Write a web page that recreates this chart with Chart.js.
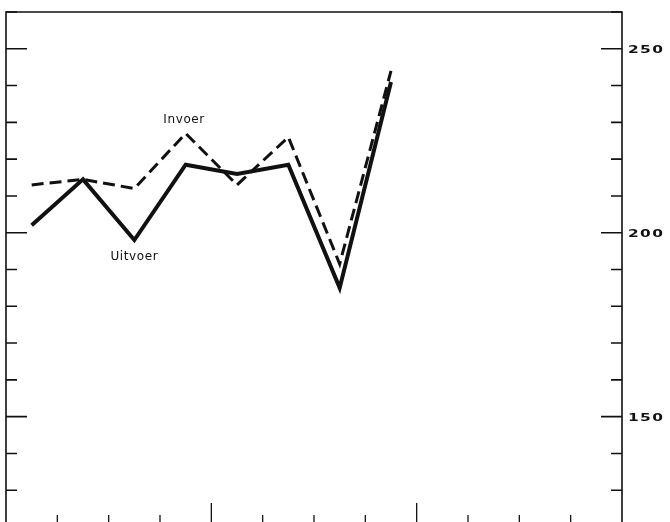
<!DOCTYPE html>
<html>
<head>
<meta charset="utf-8">
<script src="https://cdn.jsdelivr.net/npm/chart.js@4.4.0/dist/chart.umd.min.js"></script>
<style>
  html, body { margin: 0; padding: 0; background: #fff; overflow: hidden; }
  #wrap { width: 670px; height: 530px; }
</style>
</head>
<body>
<div id="wrap"><canvas id="myChart"></canvas></div>
<script>
// quarters, three years of four
var quarters = ['I', 'II', 'III', 'IV', 'I', 'II', 'III', 'IV', 'I', 'II', 'III', 'IV'];
var uitvoer = [202, 214.5, 198, 218.5, 216, 218.5, 185, 241, null, null, null, null];
var invoer = [213, 214.5, 212, 227, 213, 226, 191.5, 244, null, null, null, null];
var tickLabels = [150, 200, 250];
var yMin = 120, yMax = 260, yStep = 10;
var yearBreaks = [4, 8];

// series name labels placed in data units (category index, value)
var seriesLabels = [
    { text: 'Invoer', x: 2.97, y: 230.7 },
    { text: 'Uitvoer', x: 2.0, y: 193.5 }
];

var framePlugin = {
    id: 'frame',
    afterDraw: function (chart) {
        var ctx = chart.ctx;
        var a = chart.chartArea;
        var xs = chart.scales.x;
        var ys = chart.scales.y;
        ctx.save();
        ctx.strokeStyle = '#111';
        ctx.lineWidth = 1.6;
        ctx.beginPath();
        ctx.moveTo(a.left, a.bottom);
        ctx.lineTo(a.left, a.top);
        ctx.lineTo(a.right, a.top);
        ctx.lineTo(a.right, a.bottom);
        ctx.lineTo(a.left, a.bottom);
        ctx.stroke();

        // inward ticks on both sides
        for (var v = yMin; v <= yMax; v += yStep) {
            var py = ys.getPixelForValue(v);
            var len = tickLabels.indexOf(v) >= 0 ? 21 : 11;
            ctx.beginPath();
            ctx.moveTo(a.left, py);
            ctx.lineTo(a.left + len, py);
            ctx.moveTo(a.right, py);
            ctx.lineTo(a.right - len, py);
            ctx.stroke();
        }
        // inward ticks on the bottom, at quarter boundaries
        ctx.lineWidth = 1.3;
        for (var i = 1; i < quarters.length; i++) {
            var px = xs.getPixelForValue(i - 0.5);
            var tl = yearBreaks.indexOf(i) >= 0 ? 24 : 12;
            ctx.beginPath();
            ctx.moveTo(px, a.bottom);
            ctx.lineTo(px, a.bottom - tl);
            ctx.stroke();
        }

        // right hand tick labels, wide lettering
        ctx.fillStyle = '#111';
        ctx.font = 'bold 11px "DejaVu Sans"';
        ctx.letterSpacing = '1px';
        ctx.textAlign = 'left';
        ctx.textBaseline = 'middle';
        tickLabels.forEach(function (t) {
            ctx.save();
            ctx.translate(a.right + 6, ys.getPixelForValue(t) + 1);
            ctx.scale(1.4, 1);
            ctx.fillText(String(t), 0, 0);
            ctx.restore();
        });

        // series names
        ctx.font = '12px "DejaVu Sans"';
        ctx.letterSpacing = '0.6px';
        ctx.textAlign = 'center';
        seriesLabels.forEach(function (l) {
            ctx.fillText(l.text, xs.getPixelForValue(l.x), ys.getPixelForValue(l.y));
        });
        ctx.restore();
    }
};

var ctx = document.getElementById('myChart').getContext('2d');
var myChart = new Chart(ctx, {
    type: 'line',
    data: {
        labels: quarters,
        datasets: [{
            label: 'Invoer',
            data: invoer,
            borderColor: '#111',
            borderWidth: 3,
            borderDash: [12, 6],
            pointRadius: 0,
            tension: 0,
            fill: false
        }, {
            label: 'Uitvoer',
            data: uitvoer,
            borderColor: '#111',
            borderWidth: 4,
            borderJoinStyle: 'miter',
            pointRadius: 0,
            tension: 0,
            fill: false
        }]
    },
    options: {
        responsive: true,
        maintainAspectRatio: false,
        animation: false,
        layout: {
            padding: { left: 6, right: 48, top: 12, bottom: 3 }
        },
        plugins: {
            legend: { display: false },
            tooltip: { enabled: false }
        },
        scales: {
            x: {
                type: 'category',
                offset: true,
                display: false
            },
            y: {
                min: yMin,
                max: yMax,
                display: false
            }
        }
    },
    plugins: [framePlugin]
});
</script>
</body>
</html>
